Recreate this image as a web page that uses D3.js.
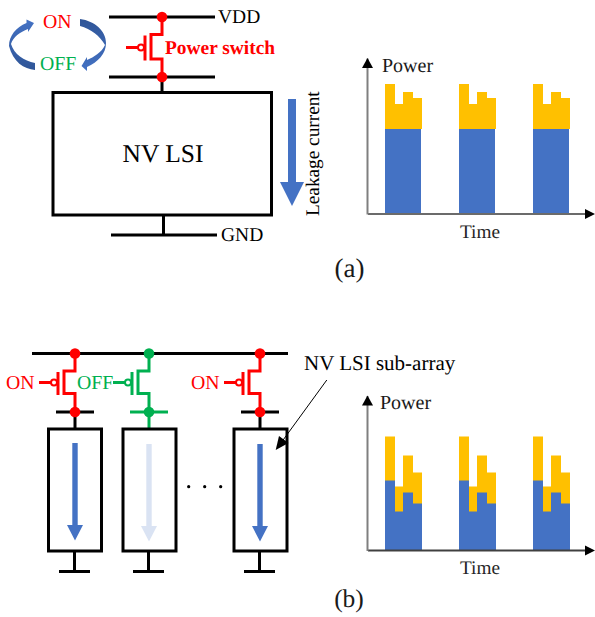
<!DOCTYPE html>
<html><head><meta charset="utf-8">
<script src="https://cdnjs.cloudflare.com/ajax/libs/d3/7.9.0/d3.min.js"></script>
<style>html,body{margin:0;padding:0;background:#fff}svg{display:block}text{font-family:"Liberation Serif","Times New Roman",serif;text-rendering:geometricPrecision}</style>
</head><body><svg id="c" width="595" height="617"></svg>
<script>
// ---- data (power, in arbitrary units, one per pulse segment) ----
const cycles = [0, 74, 148];
const segmentEdges = [0, 10, 18, 28, 37];
const blueEdgesA = [0, 10, 18, 28, 36];
const staticPowerA = [85, 85, 85, 85];
const totalPowerA = [130, 110, 122, 116];
const staticPowerB = [70, 39, 58, 47];
const totalPowerB = [114, 64, 95, 78];
const axisLabelY = "Power", axisLabelX = "Time";
const switchStates = ["ON", "OFF", "ON"];

const RED = "#FF0000", GREEN = "#00B050", BLUE = "#4472C4", PALE = "#DAE3F3", AMBER = "#FFC000";
const svg = d3.select("#c");
const serif = (sel, size, fill) => sel.attr("font-size", size).attr("fill", fill);
const label = (x, y, s, size, fill = "#000", anchor = "start") =>
  svg.append("text").attr("x", x).attr("y", y).attr("text-anchor", anchor).text(s).call(serif, size, fill);
const seg = (pts, color, w = 3) => svg.append("path").attr("d", d3.line()(pts)).attr("fill", "none")
  .attr("stroke", color).attr("stroke-width", w);
const dot = (x, y, color, r = 5) => svg.append("circle").attr("cx", x).attr("cy", y).attr("r", r).attr("fill", color);
const poly = (pts, fill) => svg.append("path").attr("d", d3.line()(pts) + "Z").attr("fill", fill);

// ---- power plots ----
function powerPlot(cfg) {
  const x = d3.scaleLinear().domain([0, 222.5]).range([cfg.x0, cfg.x0 + 222.5]);
  const y = d3.scaleLinear().domain([0, cfg.top]).range([cfg.y0, cfg.y0 - cfg.top]);
  const g = svg.append("g");
  const base = 17.5;
  cycles.forEach(c => {
    cfg.total.forEach((v, i) => {
      g.append("rect").attr("x", x(base + c + segmentEdges[i])).attr("width", segmentEdges[i + 1] - segmentEdges[i])
        .attr("y", y(v)).attr("height", y(0) - y(v)).attr("fill", AMBER);
    });
    cfg.blue.forEach((v, i) => {
      g.append("rect").attr("x", x(base + c + cfg.blueEdges[i])).attr("width", cfg.blueEdges[i + 1] - cfg.blueEdges[i])
        .attr("y", y(v)).attr("height", y(0) - y(v)).attr("fill", BLUE);
    });
    // the amber below the blue band's right end is hidden in the original
    if (cfg.blueEdges[4] < segmentEdges[4]) {
      g.append("rect").attr("x", x(base + c + cfg.blueEdges[4])).attr("width", segmentEdges[4] - cfg.blueEdges[4])
        .attr("y", y(cfg.blue[3])).attr("height", y(0) - y(cfg.blue[3])).attr("fill", "#fff");
    }
  });
  const ax = svg.append("g").attr("transform", `translate(0,${cfg.y0 - 0.5})`)
    .call(d3.axisBottom(x).tickValues([]).tickSizeOuter(0));
  ax.select("path").attr("stroke", cfg.xColor).attr("stroke-width", 2);
  const ay = svg.append("g").attr("transform", `translate(${cfg.x0 - 0.5},0)`)
    .call(d3.axisLeft(y).tickValues([]).tickSizeOuter(0));
  ay.select("path").attr("stroke", "#7f7f7f").attr("stroke-width", 2);
  poly([[cfg.x0, cfg.y0 - cfg.top], [cfg.x0 - 5.5, cfg.y0 - cfg.top + 10], [cfg.x0 + 5.5, cfg.y0 - cfg.top + 10]], "#000");
  poly([[x.range()[1] + 5, cfg.y0], [x.range()[1] - 5, cfg.y0 - 5], [x.range()[1] - 5, cfg.y0 + 5]], "#000");
  label(cfg.x0 + cfg.px, cfg.py, axisLabelY, 20, "#1a1a1a");
  label(460, cfg.ty, axisLabelX, 19.3, "#262626");
}
powerPlot({x0: 367.5, y0: 214, top: 156, total: totalPowerA, blue: staticPowerA, blueEdges: blueEdgesA,
  px: 14.5, py: 72, ty: 238, xColor: "#6b6b6b"});
powerPlot({x0: 367.5, y0: 550.5, top: 155, total: totalPowerB, blue: staticPowerB, blueEdges: segmentEdges,
  px: 12.5, py: 409, ty: 574, xColor: "#404040"});

// ---- PMOS switch, shared by both schematics ----
function pmos(xc, yTop, yBot, color, p) {
  seg([[xc, yTop], [xc, p.a], [xc - p.ch, p.a], [xc - p.ch, p.b], [xc, p.b], [xc, yBot]], color);
  seg([[xc - p.ch - 6, p.a + 1], [xc - p.ch - 6, p.b + 1.5]], color);
  seg([[xc - p.ch - 25, p.g], [xc - p.ch - 13, p.g]], color);
  svg.append("circle").attr("cx", xc - p.ch - 10).attr("cy", p.g).attr("r", 3)
    .attr("fill", "#fff").attr("stroke", color).attr("stroke-width", 2);
}

// ---- schematic (a) ----
seg([[109, 17], [215, 17]], "#000");
seg([[109, 77], [215, 77]], "#000");
seg([[162, 77], [162, 93]], "#000");
pmos(162, 17, 77, RED, {a: 34.5, b: 59, g: 47.5, ch: 11});
dot(162, 17, RED, 5.3); dot(162, 77, RED, 5.3);
svg.append("rect").attr("x", 53).attr("y", 92.5).attr("width", 218.5).attr("height", 122.5)
  .attr("fill", "#fff").attr("stroke", "#000").attr("stroke-width", 3);
seg([[163.5, 215], [163.5, 235]], "#000");
seg([[111, 235], [217, 235]], "#000");
label(218, 23, "VDD", 19.5);
label(221, 241, "GND", 19.5);
label(165, 54, "Power switch", 19.4, RED).attr("font-weight", "bold");
label(163, 162, "NV LSI", 25.5, "#000", "middle");
label(43, 28, "ON", 19.8, RED);
label(40, 70, "OFF", 19.8, GREEN);

const grad = svg.append("defs").append("linearGradient").attr("id", "cyc")
  .attr("x1", 0).attr("y1", 0).attr("x2", 0).attr("y2", 1);
grad.append("stop").attr("offset", 0).attr("stop-color", "#4472C4");
grad.append("stop").attr("offset", 1).attr("stop-color", "#2F5597");
const grad2 = svg.select("defs").append("linearGradient").attr("id", "cyc2")
  .attr("x1", 0).attr("y1", 1).attr("x2", 0).attr("y2", 0);
grad2.append("stop").attr("offset", 0).attr("stop-color", "#4472C4");
grad2.append("stop").attr("offset", 1).attr("stop-color", "#2F5597");
svg.append("path").attr("fill", "url(#cyc)")
  .attr("d", "M35,70 C24,69 13,62 9,46 C9,36 16,27 26.5,23 L26.5,19.5 L34,23 L28,32 L28,29 C20,32 13,37 11,44 C14,54 24,61 35,63 Z");
svg.append("path").attr("fill", "url(#cyc2)")
  .attr("d", "M80,19 C95,21 106,31 106,43 C106,54 98,62 87,67 L87,71 L81.5,66 L87,57 L87,60 C94,57 102,52 105,45 C100,36 91,29 80,26 Z");
poly([[288, 99], [296, 99], [296, 182], [304, 182], [292, 206], [280, 182], [288, 182]], BLUE);
label(0, 0, "Leakage current", 19.3).attr("transform", "translate(319,216) rotate(-90)");
label(349.5, 277, "(a)", 27, "#1a1a1a", "middle");

// ---- schematic (b) ----
const columns = [75, 149, 260];
const boxLeft = [48.5, 123, 234];
seg([[32, 353.5], [288, 353.5]], "#000");
columns.forEach((xc, i) => {
  const on = switchStates[i] === "ON";
  const col = on ? RED : GREEN;
  seg([[xc - 19, 412], [xc + 19, 412]], on ? "#000" : GREEN);
  seg([[xc, 412], [xc, 430]], on ? "#000" : GREEN);
  pmos(xc, 353.5, 412, col, {a: 371, b: 393.5, g: 382.5, ch: 11});
  dot(xc, 353.5, col, 5.3); dot(xc, 412, col, 5.3);
  svg.append("rect").attr("x", boxLeft[i]).attr("y", 429).attr("width", 53).attr("height", 122)
    .attr("fill", "#fff").attr("stroke", "#000").attr("stroke-width", 3);
  seg([[xc - 0.5, 551], [xc - 0.5, 571]], "#000");
  seg([[xc - 16, 571.5], [xc + 15, 571.5]], "#000");
  const ac = i === 0 ? 75 : xc;
  const top = i === 0 ? 443 : 444, sh = top + 82, tip = top + 97.5;
  poly([[ac - 2.7, top], [ac + 2.7, top], [ac + 2.7, sh], [ac + 8, sh], [ac, tip], [ac - 8, sh], [ac - 2.7, sh]], on ? BLUE : PALE);
});
label(6, 389, "ON", 19.8, RED);
label(77, 389, "OFF", 19.8, GREEN);
label(191, 389, "ON", 19.8, RED);
[188.7, 204.7, 220.7].forEach(x => dot(x, 486.7, "#000", 1.6));
label(304, 370, "NV LSI sub-array", 21);
seg([[326.8, 380], [282, 441.5]], "#000", 1);
poly([[275.7, 450], [279, 436], [288.5, 443]], "#000");
label(349, 607, "(b)", 25.5, "#1a1a1a", "middle");
</script></body></html>
